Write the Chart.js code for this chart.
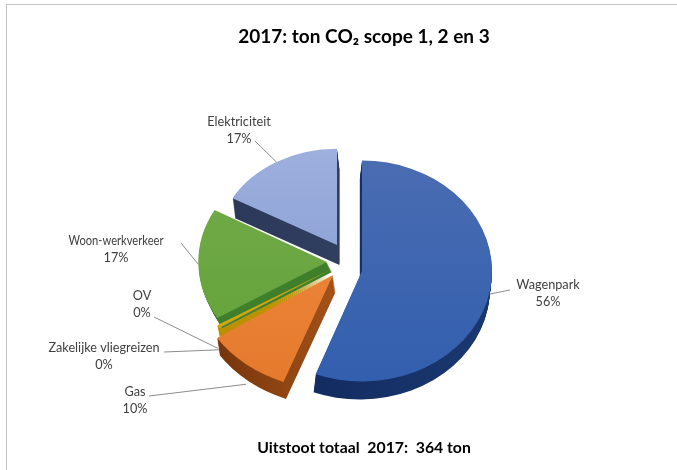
<!DOCTYPE html>
<html>
<head>
<meta charset="utf-8">
<script src="https://cdn.jsdelivr.net/npm/chart.js@4"></script>
<style>
  html, body { margin: 0; padding: 0; background: #fff; overflow: hidden; }
  #frame { position: absolute; left: 6px; top: 4px; width: 680px; height: 480px;
           border-left: 1px solid #c4c4c4; border-top: 1px solid #c4c4c4; }
  #box { position: absolute; left: 0; top: 0; width: 677px; height: 470px; }
</style>
</head>
<body>
<div id="frame"></div>
<div id="box"><canvas id="chart"></canvas></div>
<script>
const categories = ['Wagenpark', 'Gas', 'Zakelijke vliegreizen', 'OV', 'Woon-werkverkeer', 'Elektriciteit'];
const tons = [55.8, 9.9, 0.1, 0.4, 16.9, 16.9];
const chartTitle = '2017: ton CO₂ scope 1, 2 en 3';
const chartFooter = 'Uitstoot totaal  2017:  364 ton';

// colours per slice: top surface light/dark, side wall left/right
const topLight = ['#4a6cb2', '#f08c42', '#a5a5a5', '#d9a800', '#74ab4c', '#9db0de'];
const topDark  = ['#325fae', '#e5792c', '#a5a5a5', '#d9a800', '#62a237', '#8399d0'];
const wallLeft  = ['#10275a', '#6e2f08', '#777777', '#b98f00', '#3f7f2c', '#2b3858'];
const wallRight = ['#1a3870', '#d8742a', '#777777', '#c49a00', '#3f7f2c', '#364468'];

// fake perspective: where each slice's tip sits and how big it looks
const RADIUS = 130;
const tipX   = [362, 333, 330, 330, 327, 337];
const tipY   = [271, 275, 270, 270, 262, 245];
const growX  = [1.0, 1.07, 1.02, 1.02, 0.99, 0.92];
const growY  = [0.85, 0.88, 0.81, 0.81, 0.82, 0.74];
const depths = [18, 17, 10, 10, 10, 20];
const skews  = [-0.12, 0.15, 0.2, 0.2, 0.5, 0.12];

// label anchors, [x, y of first line], and leader lines
const labelSpots = [[548, 285], [135, 392], [104, 348], [142, 296], [116, 241], [239, 122]];
const leaderStarts = [[510, 290], [149, 396], [164, 352], [154, 317], [181, 243], [255, 141]];
const leaderDrops = [3, 20, 22, 22, 0, 0];

function place(ctx, arc, i, dy) {
  ctx.translate(tipX[i] + dy * skews[i], tipY[i] + dy);
  ctx.scale(growX[i], growY[i]);
  ctx.translate(-arc.x, -arc.y);
}

function paintArc(ctx, arc, fill) {
  const saved = arc.options;
  arc.options = Object.assign({}, saved, { backgroundColor: fill, borderWidth: 0 });
  arc.draw(ctx);
  arc.options = saved;
}

const pie3d = {
  id: 'pie3d',
  beforeDatasetDraw(chart, args) {
    const ctx = chart.ctx;
    const arcs = args.meta.data;

    // side walls first, from the bottom up
    arcs.forEach((arc, i) => {
      for (let dy = depths[i]; dy > 0; dy--) {
        ctx.save();
        place(ctx, arc, i, dy);
        const g = ctx.createLinearGradient(arc.x - RADIUS, 0, arc.x + RADIUS, 0);
        g.addColorStop(0, wallLeft[i]);
        g.addColorStop(1, wallRight[i]);
        paintArc(ctx, arc, g);
        ctx.restore();
      }
    });

    arcs.forEach((arc, i) => {
      ctx.save();
      place(ctx, arc, i, 0);
      const g = ctx.createLinearGradient(0, arc.y - RADIUS, 0, arc.y + RADIUS);
      g.addColorStop(0, topLight[i]);
      g.addColorStop(1, topDark[i]);
      paintArc(ctx, arc, g);
      ctx.restore();
    });
    return false;
  },
  afterDraw(chart) {
    const ctx = chart.ctx;
    const arcs = chart.getDatasetMeta(0).data;
    const total = tons.reduce((a, b) => a + b, 0);

    ctx.save();
    ctx.font = '12.7px Lato';
    ctx.textAlign = 'center';
    ctx.textBaseline = 'middle';
    arcs.forEach((arc, i) => {
      const mid = (arc.startAngle + arc.endAngle) / 2;
      const endX = tipX[i] + Math.cos(mid) * RADIUS * growX[i];
      const endY = tipY[i] + Math.sin(mid) * RADIUS * growY[i] + leaderDrops[i];

      ctx.strokeStyle = '#8c8c8c';
      ctx.lineWidth = 1;
      ctx.beginPath();
      ctx.moveTo(leaderStarts[i][0], leaderStarts[i][1]);
      ctx.lineTo(endX, endY);
      ctx.stroke();

      ctx.fillStyle = '#404040';
      ctx.fillText(categories[i], labelSpots[i][0], labelSpots[i][1], i === 4 ? 95 : 200);
      ctx.fillText(Math.round(tons[i] / total * 100) + '%', labelSpots[i][0], labelSpots[i][1] + 17);
    });
    ctx.restore();
  }
};

new Chart(document.getElementById('chart'), {
  type: 'pie',
  data: {
    labels: categories,
    datasets: [{
      data: tons,
      backgroundColor: topDark,
      borderWidth: 0,
      radius: RADIUS,
    }]
  },
  options: {
    responsive: true,
    maintainAspectRatio: false,
    animation: false,
    layout: { padding: { left: 51 } },
    plugins: {
      legend: { display: false },
      tooltip: { enabled: false },
      title: {
        display: true,
        text: chartTitle,
        color: '#000',
        font: { family: 'Lato', size: 19, weight: 'bold' },
        padding: { top: 25, bottom: 8 },
      },
      subtitle: {
        display: true,
        position: 'bottom',
        text: chartFooter,
        color: '#000',
        font: { family: 'Lato', size: 15.8, weight: 'bold' },
        padding: { top: 8, bottom: 13 },
      }
    }
  },
  plugins: [pie3d]
});
</script>
</body>
</html>
